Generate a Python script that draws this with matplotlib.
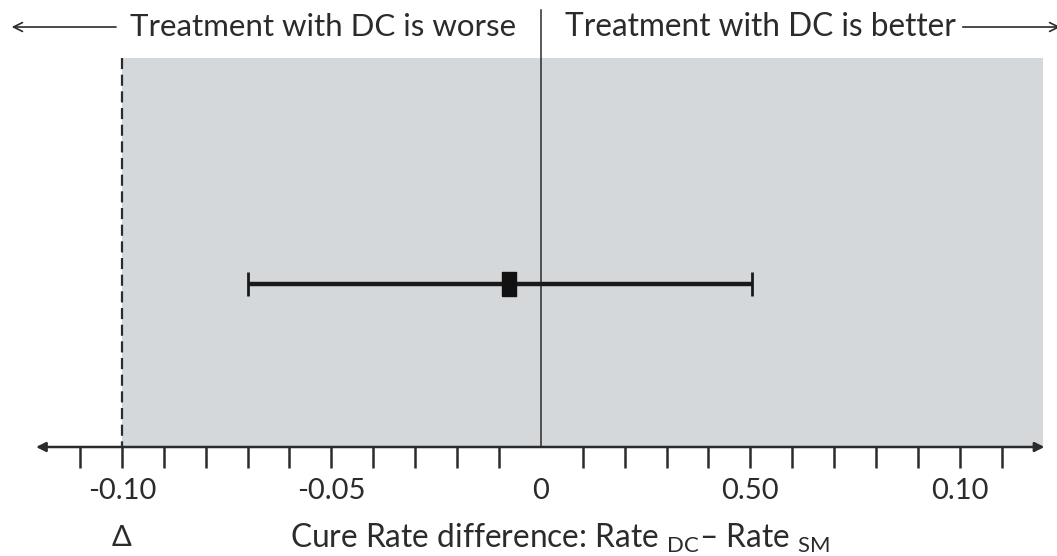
import matplotlib

matplotlib.use("Agg")
import matplotlib.pyplot as plt
from matplotlib.patches import Rectangle

plt.rcParams["font.family"] = ["Lato", "DejaVu Sans"]
plt.rcParams["mathtext.fontset"] = "custom"
plt.rcParams["mathtext.rm"] = "Lato"

# data
margin = -0.10
ci_low, point_est, ci_high = -0.070, -0.0075, 0.0505
tick_values = [v / 100 for v in range(-11, 12) if v != 0]
label_values = [-0.10, -0.05, 0.0, 0.05, 0.10]
label_texts = ["-0.10", "-0.05", "0", "0.50", "0.10"]

TEXT = "#2b2b2b"
GRAY = "#d5d8db"

fig = plt.figure(figsize=(10.57, 5.56), dpi=100)
ax = fig.add_axes([0, 0, 1, 1])
ax.set_xlim(-0.1291, 0.1232)
ax.set_ylim(556, 0)
ax.axis("off")

axis_y = 447
shade_top = 58

# shaded non-inferiority region
ax.add_patch(Rectangle((margin, shade_top), 0.1198 - margin, axis_y - shade_top,
                       color=GRAY, lw=0, zorder=0))
ax.plot([margin, margin], [shade_top, axis_y], color=TEXT, lw=1.6,
        dashes=(5, 2.5), zorder=2)
ax.plot([0, 0], [10, axis_y], color=TEXT, lw=1.1, zorder=2)

# x axis with arrows on both ends
ax.annotate("", xy=(-0.1205, axis_y), xytext=(0.1202, axis_y),
            arrowprops=dict(arrowstyle="<|-|>", color=TEXT, lw=1.8,
                            mutation_scale=14, shrinkA=0, shrinkB=0))
ax.vlines(tick_values, axis_y, axis_y + 21, color=TEXT, lw=1.8)
for v, t in zip(label_values, label_texts):
    ax.text(v, 491, t, ha="center", va="center", fontsize=21, color=TEXT)

ax.text(margin, 538, "Δ", ha="center", va="center", fontsize=21, color=TEXT)
ax.text(-0.0598, 538, r"Cure Rate difference: Rate $_{\mathrm{DC}}$– Rate $_{\mathrm{SM}}$",
        ha="left", va="center", fontsize=22.8, color=TEXT)

# confidence interval
ax.errorbar([point_est], [284], xerr=[[point_est - ci_low], [ci_high - point_est]],
            fmt="none", ecolor="#1a1a1a", elinewidth=3.2, capsize=8.5, capthick=2,
            zorder=3)
ax.plot([point_est], [284], marker=[(-1, -1.8), (1, -1.8), (1, 1.8), (-1, 1.8), (-1, -1.8)],
        markersize=17, color="#111111", zorder=4)

# direction labels
ax.text(-0.0981, 27, "Treatment with DC is worse", ha="left", va="center",
        fontsize=22.5, color=TEXT)
ax.annotate("", xy=(-0.1263, 27), xytext=(-0.1014, 27),
            arrowprops=dict(arrowstyle="->", color=TEXT, lw=1.2,
                            mutation_scale=16, shrinkA=0, shrinkB=0))
ax.text(0.0057, 27, "Treatment with DC is better", ha="left", va="center",
        fontsize=22.8, color=TEXT)
ax.annotate("", xy=(0.1240, 27), xytext=(0.1007, 27), annotation_clip=False,
            arrowprops=dict(arrowstyle="->", color=TEXT, lw=1.2,
                            mutation_scale=16, shrinkA=0, shrinkB=0))

fig.savefig("out.png", dpi=100)
plt.close(fig)
